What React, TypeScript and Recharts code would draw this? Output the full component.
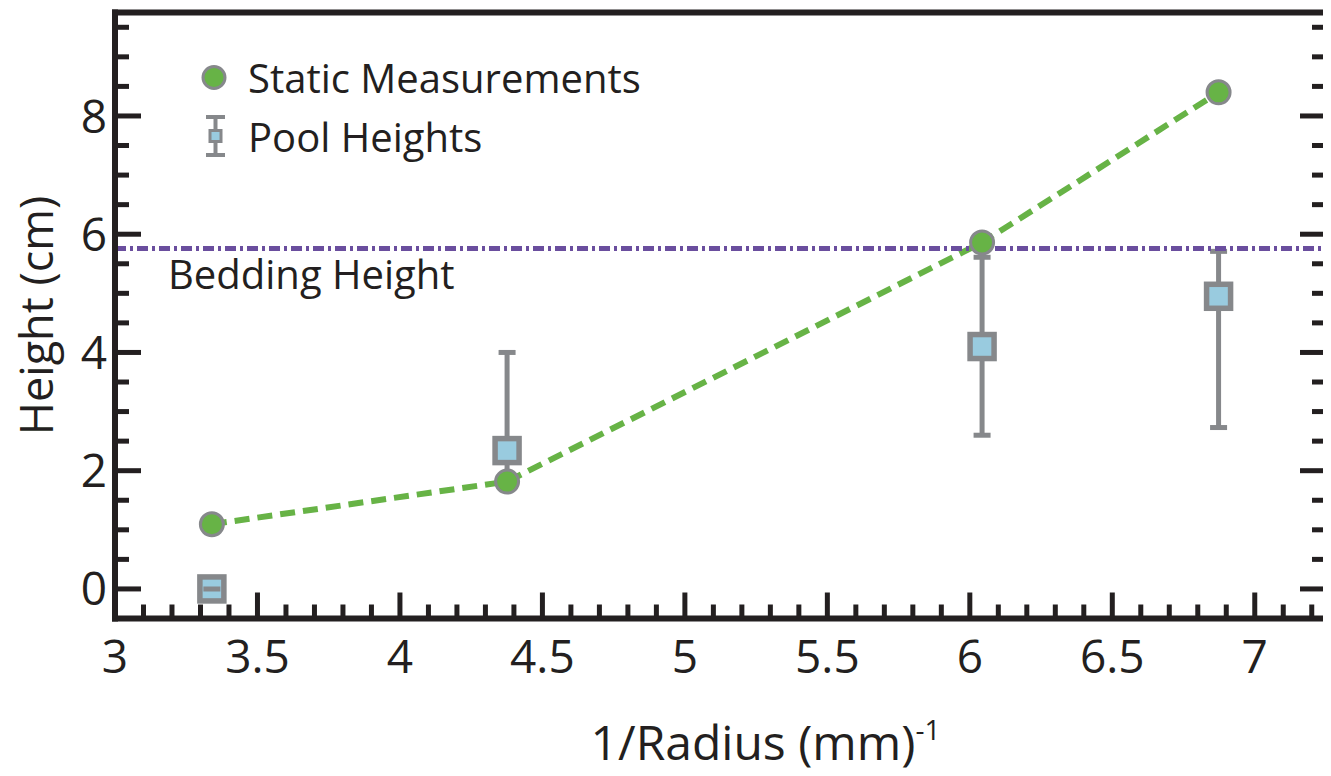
import {
  ComposedChart,
  Line,
  Scatter,
  ErrorBar,
  XAxis,
  YAxis,
  ReferenceLine,
  Legend,
} from "recharts";

const INK = "#231f20";
const GREEN = "#67b346";
const GREY = "#86888b";
const BLUE = "#99cbdf";
const PURPLE = "#6a4e9e";
const FONT = "'Open Sans', sans-serif";

// static measurements: 1/radius vs height
const STATIC_R = [3.34, 4.376, 6.043, 6.873];
const STATIC_H = [1.095, 1.816, 5.86, 8.4];

// pool heights, with lowest / highest observed
const POOL_R = [3.34, 4.376, 6.043, 6.873];
const POOL_H = [0, 2.34, 4.1, 4.95];
const POOL_LO = [0, 1.75, 2.6, 2.73];
const POOL_HI = [0, 4.0, 5.61, 5.71];

const BEDDING_HEIGHT = 5.76;

const X_DOMAIN = [3, 7.25];
const Y_DOMAIN = [-0.5, 9.75];
const X_TICKS = [
  3, 3.1, 3.2, 3.3, 3.4, 3.5, 3.6, 3.7, 3.8, 3.9, 4, 4.1, 4.2, 4.3, 4.4, 4.5,
  4.6, 4.7, 4.8, 4.9, 5, 5.1, 5.2, 5.3, 5.4, 5.5, 5.6, 5.7, 5.8, 5.9, 6, 6.1,
  6.2, 6.3, 6.4, 6.5, 6.6, 6.7, 6.8, 6.9, 7, 7.1, 7.2,
];
const Y_TICKS = [
  0, 0.5, 1, 1.5, 2, 2.5, 3, 3.5, 4, 4.5, 5, 5.5, 6, 6.5, 7, 7.5, 8, 8.5, 9,
  9.5,
];

const staticData = STATIC_R.map((r, i) => ({ r, h: STATIC_H[i] }));
const poolData = POOL_R.map((r, i) => ({
  r,
  h: POOL_H[i],
  err: [POOL_H[i] - POOL_LO[i], POOL_HI[i] - POOL_H[i]],
}));

const MAJOR = 26;
const MINOR = 14;
const TICK_W = 5;
const TICK_FONT = 46;

const xMajor = (v: number) => Math.abs(v * 2 - Math.round(v * 2)) < 1e-6;
const yMajor = (v: number) => Math.abs(v / 2 - Math.round(v / 2)) < 1e-6;

function BottomTick({ x, y, payload }: any) {
  const v = payload.value;
  const major = xMajor(v);
  return (
    <g>
      <line x1={x} x2={x} y1={y} y2={y - (major ? MAJOR : MINOR)} stroke={INK} strokeWidth={TICK_W} />
      {major && (
        <text x={x} y={y + 54} textAnchor="middle" fontSize={TICK_FONT} fill={INK} fontFamily={FONT}>
          {v}
        </text>
      )}
    </g>
  );
}

function TopTick({ x, y, payload }: any) {
  const major = xMajor(payload.value);
  return <line x1={x} x2={x} y1={y} y2={y + (major ? MAJOR : MINOR)} stroke={INK} strokeWidth={TICK_W} />;
}

function LeftTick({ x, y, payload }: any) {
  const v = payload.value;
  const major = yMajor(v);
  return (
    <g>
      <line x1={x} x2={x + (major ? MAJOR : MINOR)} y1={y} y2={y} stroke={INK} strokeWidth={TICK_W} />
      {major && (
        <text x={x - 8} y={y} dy="0.36em" textAnchor="end" fontSize={TICK_FONT} fill={INK} fontFamily={FONT}>
          {v}
        </text>
      )}
    </g>
  );
}

function RightTick({ x, y, payload }: any) {
  const major = yMajor(payload.value);
  return <line x1={x} x2={x - (major ? MAJOR : MINOR)} y1={y} y2={y} stroke={INK} strokeWidth={TICK_W} />;
}

function StaticDot({ cx, cy, index }: any) {
  return <circle key={index} cx={cx} cy={cy} r={11.5} fill={GREEN} stroke={GREY} strokeWidth={3} />;
}

function PoolSquare({ cx, cy, payload }: any) {
  const flat = payload.err[0] === 0 && payload.err[1] === 0;
  return (
    <g>
      <rect x={cx - 12} y={cy - 12} width={24} height={24} fill={BLUE} stroke={GREY} strokeWidth={5.5} />
      {flat && <line x1={cx - 8.5} x2={cx + 8.5} y1={cy} y2={cy} stroke={GREY} strokeWidth={5} />}
    </g>
  );
}

function LegendBox() {
  return (
    <svg width={460} height={130} style={{ display: "block" }}>
      <circle cx={19} cy={32.5} r={11} fill={GREEN} stroke={GREY} strokeWidth={3} />
      <text x={53} y={48} fontSize={40} fill={INK} fontFamily={FONT}>
        Static Measurements
      </text>
      <g stroke={GREY} strokeWidth={4}>
        <line x1={20.5} x2={20.5} y1={72} y2={110} />
        <line x1={11} x2={30} y1={72} y2={72} />
        <line x1={11} x2={30} y1={110} y2={110} />
      </g>
      <rect x={15} y={85.5} width={11} height={11} fill={BLUE} stroke={GREY} strokeWidth={3} />
      <text x={53} y={107} fontSize={40} fill={INK} fontFamily={FONT}>
        Pool Heights
      </text>
    </svg>
  );
}

// the four axis lines together form the plot frame
const frame = { stroke: INK, strokeWidth: 6, strokeLinecap: "square" as const };

export default function App() {
  return (
    <div style={{ margin: -8, width: 1331, height: 776, background: "#fff", fontFamily: FONT }}>
      <ComposedChart width={1331} height={776} margin={{ top: 0, right: 0, bottom: 0, left: 0 }}>
        <XAxis
          xAxisId="b"
          dataKey="r"
          type="number"
          domain={X_DOMAIN}
          ticks={X_TICKS}
          interval={0}
          height={157.5}
          tickSize={0}
          tickMargin={0}
          tick={BottomTick}
          axisLine={frame}
          allowDataOverflow
          label={{
            content: ({ viewBox }: any) => (
              <text
                x={viewBox.x + viewBox.width / 2 + 45}
                y={760}
                textAnchor="middle"
                fontSize={48}
                fill={INK}
                fontFamily={FONT}
              >
                1/Radius (mm)
                <tspan dy={-20} fontSize={28}>
                  -1
                </tspan>
              </text>
            ),
          }}
        />
        <XAxis
          xAxisId="t"
          orientation="top"
          type="number"
          domain={X_DOMAIN}
          ticks={X_TICKS}
          interval={0}
          height={12.5}
          tickSize={0}
          tickMargin={0}
          tick={TopTick}
          axisLine={frame}
          allowDataOverflow
        />
        <YAxis
          yAxisId="l"
          type="number"
          domain={Y_DOMAIN}
          ticks={Y_TICKS}
          interval={0}
          width={115}
          tickSize={0}
          tickMargin={0}
          tick={LeftTick}
          axisLine={frame}
          allowDataOverflow
          label={{
            content: ({ viewBox }: any) => {
              const cy = viewBox.y + viewBox.height / 2;
              return (
                <text
                  x={53}
                  y={cy}
                  transform={`rotate(-90, 53, ${cy})`}
                  textAnchor="middle"
                  fontSize={45}
                  fill={INK}
                  fontFamily={FONT}
                >
                  Height (cm)
                </text>
              );
            },
          }}
        />
        <YAxis
          yAxisId="r"
          orientation="right"
          type="number"
          domain={Y_DOMAIN}
          ticks={Y_TICKS}
          interval={0}
          width={5}
          tickSize={0}
          tickMargin={0}
          tick={RightTick}
          axisLine={frame}
          allowDataOverflow
        />
        <Legend
          layout="horizontal"
          verticalAlign="middle"
          align="center"
          content={() => <LegendBox />}
          wrapperStyle={{ position: "absolute", left: 195, top: 45, width: 460, height: 130 }}
        />
        <Scatter
          xAxisId="b"
          yAxisId="l"
          name="Pool Heights"
          data={poolData}
          dataKey="h"
          shape={PoolSquare}
          isAnimationActive={false}
        >
          <ErrorBar dataKey="err" direction="y" width={8.5} stroke={GREY} strokeWidth={5} isAnimationActive={false} />
        </Scatter>
        <Line
          xAxisId="b"
          yAxisId="l"
          name="Static Measurements"
          data={staticData}
          dataKey="h"
          type="linear"
          stroke={GREEN}
          strokeWidth={6}
          strokeDasharray="15 8"
          dot={StaticDot}
          activeDot={false}
          isAnimationActive={false}
        />
        <ReferenceLine
          xAxisId="b"
          yAxisId="l"
          y={BEDDING_HEIGHT}
          stroke={PURPLE}
          strokeWidth={5}
          strokeDasharray="11 4 3 4"
          label={{
            content: ({ viewBox }: any) => (
              <text x={viewBox.x + 53} y={viewBox.y + 41} fontSize={40} fill={INK} fontFamily={FONT}>
                Bedding Height
              </text>
            ),
          }}
        />
      </ComposedChart>
    </div>
  );
}
